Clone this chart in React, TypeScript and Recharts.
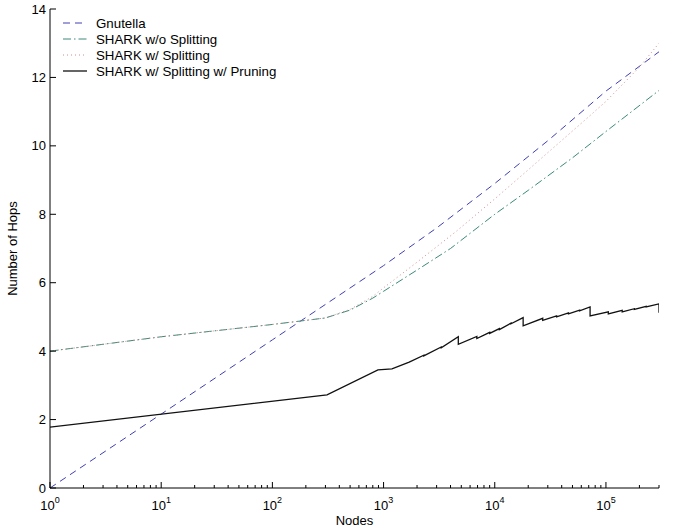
import React from 'react';
import { LineChart, Line, XAxis, YAxis, Legend } from 'recharts';

const FONT = '"Liberation Sans", Arial, Helvetica, sans-serif';

// X axis (log) ticks
const decadeTicks = [1, 10, 100, 1000, 10000, 100000];
const minorMultipliers = [2, 3, 4, 5, 6, 7, 8, 9];
const xMax = 300000;
const yTicks = [0, 2, 4, 6, 8, 10, 12, 14];

// Gnutella
const gnutellaNodes = [1, 10, 100, 1000, 3000, 10000, 30000, 100000, 300000];
const gnutellaHops = [0, 2.16, 4.33, 6.5, 7.6, 8.9, 10.15, 11.6, 12.75];

// SHARK w/o Splitting
const noSplitNodes = [1, 10, 100, 300, 500, 800, 1000, 2000, 4000, 10000, 20000, 50000, 100000, 300000];
const noSplitHops = [4.0, 4.42, 4.78, 4.97, 5.2, 5.55, 5.75, 6.37, 7.0, 8.0, 8.7, 9.65, 10.42, 11.62];

// SHARK w/ Splitting
const splitNodes = [1, 10, 100, 300, 500, 800, 1000, 2000, 4500, 10000, 20000, 70000, 100000, 200000, 300000];
const splitHops = [4.0, 4.42, 4.78, 4.97, 5.22, 5.6, 5.85, 6.6, 7.5, 8.45, 9.3, 10.85, 11.3, 12.3, 13.0];

// SHARK w/ Splitting w/ Pruning
const pruneNodes = [
  1, 310, 890, 1190, 1700, 2300, 2300, 3300, 3300, 4700, 4700,
  6900, 6900, 9000, 9000, 11000, 11000, 14000, 14000, 18000, 18000,
  27000, 27000, 36000, 36000, 46000, 46000, 58000, 58000, 72000, 72000,
  105000, 105000, 140000, 140000, 180000, 180000, 230000, 230000, 300000, 300000,
];
const pruneHops = [
  1.78, 2.72, 3.45, 3.48, 3.68, 3.88, 3.86, 4.12, 4.1, 4.42, 4.2,
  4.43, 4.37, 4.55, 4.52, 4.66, 4.63, 4.82, 4.8, 4.98, 4.74,
  4.96, 4.9, 5.03, 5.0, 5.12, 5.09, 5.2, 5.18, 5.29, 5.03,
  5.15, 5.09, 5.19, 5.15, 5.24, 5.22, 5.31, 5.29, 5.38, 5.12,
];

const toData = (xs: number[], ys: number[]) => xs.map((n, i) => ({ n, v: ys[i] }));

const xTicks: number[] = [];
decadeTicks.forEach((d) => {
  xTicks.push(d);
  minorMultipliers.forEach((m) => {
    if (d * m <= xMax) xTicks.push(d * m);
  });
});

const series = [
  { name: 'Gnutella', data: toData(gnutellaNodes, gnutellaHops), color: '#3f3fb4', dash: '7 5', width: 1 },
  { name: 'SHARK w/o Splitting', data: toData(noSplitNodes, noSplitHops), color: '#3a8a7c', dash: '8 3 1.5 3', width: 1 },
  { name: 'SHARK w/ Splitting', data: toData(splitNodes, splitHops), color: '#d08c8c', dash: '1 3', width: 1 },
  { name: 'SHARK w/ Splitting w/ Pruning', data: toData(pruneNodes, pruneHops), color: '#111111', dash: undefined, width: 1.3 },
];

const isMajor = (v: number) => decadeTicks.includes(v);

const BottomTick = (props: any) => {
  const { x, y, payload } = props;
  const v = payload.value;
  const major = isMajor(v);
  const exp = Math.round(Math.log10(v));
  return (
    <g>
      <line x1={x} x2={x} y1={y} y2={y - (major ? 6 : 3)} stroke="#000" strokeWidth={1} />
      {major && (
        <text x={x} y={y + 22} textAnchor="middle" fontSize={13} fontFamily={FONT} fill="#000">
          <tspan>10</tspan>
          <tspan dy={-7} fontSize={9}>{exp}</tspan>
        </text>
      )}
    </g>
  );
};

const TopTick = (props: any) => {
  const { x, y, payload } = props;
  const major = isMajor(payload.value);
  return <line x1={x} x2={x} y1={y} y2={y + (major ? 6 : 3)} stroke="#000" strokeWidth={1} />;
};

const LeftTick = (props: any) => {
  const { x, y, payload } = props;
  return (
    <g>
      <line x1={x} x2={x + 6} y1={y} y2={y} stroke="#000" strokeWidth={1} />
      <text x={x - 4} y={y} dy="0.35em" textAnchor="end" fontSize={13} fontFamily={FONT} fill="#000">
        {payload.value}
      </text>
    </g>
  );
};

const RightTick = (props: any) => {
  const { x, y } = props;
  return <line x1={x} x2={x - 6} y1={y} y2={y} stroke="#000" strokeWidth={1} />;
};

const LegendContent = () => (
  <div style={{ fontFamily: FONT, fontSize: 13.3, color: '#000' }}>
    {series.map((s) => (
      <div key={s.name} style={{ display: 'flex', alignItems: 'center', height: 16 }}>
        <svg width={24} height={10} style={{ marginRight: 9 }}>
          <line x1={0} x2={24} y1={5} y2={5} stroke={s.color} strokeWidth={s.width} strokeDasharray={s.dash} />
        </svg>
        <span style={{ whiteSpace: 'nowrap' }}>{s.name}</span>
      </div>
    ))}
  </div>
);

export default function App() {
  return (
    <div style={{ position: 'absolute', left: 0, top: 0, width: 684, height: 528, background: '#fff' }}>
      <LineChart width={684} height={528} margin={{ top: 9, right: 25, bottom: 0, left: 0 }}>
        <XAxis
          dataKey="n"
          type="number"
          scale="log"
          domain={[1, xMax]}
          allowDataOverflow
          ticks={xTicks}
          interval={0}
          tickSize={0}
          tickMargin={0}
          tickLine={false}
          tick={<BottomTick />}
          height={40}
          axisLine={{ stroke: '#000', strokeWidth: 1 }}
          label={{
            content: (p: any) => {
              const vb = p.viewBox;
              return (
                <text x={vb.x + vb.width / 2} y={vb.y + 37} textAnchor="middle" fontSize={13} fontFamily={FONT} fill="#000">
                  Nodes
                </text>
              );
            },
          }}
        />
        <XAxis
          xAxisId="top"
          orientation="top"
          dataKey="n"
          type="number"
          scale="log"
          domain={[1, xMax]}
          allowDataOverflow
          ticks={xTicks}
          interval={0}
          tickSize={0}
          tickMargin={0}
          tickLine={false}
          tick={<TopTick />}
          height={0}
          axisLine={{ stroke: '#000', strokeWidth: 1 }}
        />
        <YAxis
          type="number"
          domain={[0, 14]}
          ticks={yTicks}
          interval={0}
          tickSize={0}
          tickMargin={0}
          tickLine={false}
          tick={<LeftTick />}
          width={50}
          axisLine={{ stroke: '#000', strokeWidth: 1 }}
          label={{
            content: (p: any) => {
              const vb = p.viewBox;
              const cx = vb.x + 17;
              const cy = vb.y + vb.height / 2;
              return (
                <text x={cx} y={cy} transform={`rotate(-90 ${cx} ${cy})`} textAnchor="middle" fontSize={13} fontFamily={FONT} fill="#000">
                  Number of Hops
                </text>
              );
            },
          }}
        />
        <YAxis
          yAxisId="right"
          orientation="right"
          type="number"
          domain={[0, 14]}
          ticks={yTicks}
          interval={0}
          tickSize={0}
          tickMargin={0}
          tickLine={false}
          tick={<RightTick />}
          width={0}
          axisLine={{ stroke: '#000', strokeWidth: 1 }}
        />
        <Legend
          layout="vertical"
          align="center"
          verticalAlign="middle"
          content={<LegendContent />}
          wrapperStyle={{ left: 63, top: 15, width: 280, height: 64 }}
        />
        {series.map((s) => (
          <Line
            key={s.name}
            data={s.data}
            dataKey="v"
            name={s.name}
            type="linear"
            stroke={s.color}
            strokeWidth={s.width}
            strokeDasharray={s.dash}
            dot={false}
            activeDot={false}
            isAnimationActive={false}
          />
        ))}
      </LineChart>
    </div>
  );
}
